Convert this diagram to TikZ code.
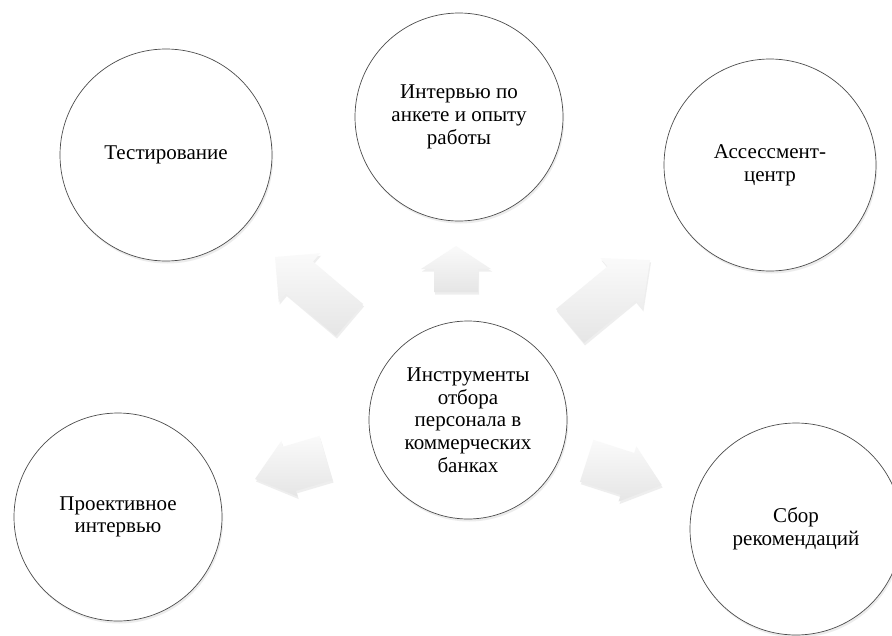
\documentclass[tikz,border=0pt]{standalone}
\usepackage{fontspec}
\setmainfont{Liberation Serif}
\newfontfamily\tnr{Liberation Serif}
\usetikzlibrary{shadows,calc}
\tikzset{
  bubble/.style={circle, draw=gray!60!black, line width=0.7pt, fill=white, inner sep=0pt,
    align=center, font=\tnr\fontsize{21}{22.7}\selectfont,
    drop shadow={shadow xshift=1.2pt, shadow yshift=-2.5pt, opacity=0.15}},
  blockarrow/.style={draw=none, top color=gray!4, bottom color=gray!20,
    drop shadow={shadow xshift=1pt, shadow yshift=-2.5pt, opacity=0.13}},
}
\newcommand\blockarr[5]{% #1 tail, #2 tip, #3 shaft half width, #4 head half width, #5 head length
  \coordinate (#1-hb) at ($(#2)!#5!(#1)$);
  \path[blockarrow] ($(#1)!#3!90:(#2)$) -- ($(#1-hb)!#3!90:(#2)$) -- ($(#1-hb)!#4!90:(#2)$)
    -- (#2) -- ($(#1-hb)!#4!-90:(#2)$) -- ($(#1-hb)!#3!-90:(#2)$) -- ($(#1)!#3!-90:(#2)$) -- cycle;}
\begin{document}
\begin{tikzpicture}[x=1pt,y=-1pt]
\useasboundingbox (0,0) rectangle (892,635);
\fill[white] (0,0) rectangle (892,635);

% arrows
\coordinate (ulA) at (349.5,320); \coordinate (ulB) at (275,257);
\coordinate (upA) at (456,292);   \coordinate (upB) at (456,246);
\coordinate (urA) at (570,326);   \coordinate (urB) at (650,260);
\coordinate (llA) at (326,458);   \coordinate (llB) at (255,479);
\coordinate (lrA) at (586.7,460.8); \coordinate (lrB) at (661.7,485);
\blockarr{ulA}{ulB}{21pt}{32pt}{32pt}
\blockarr{upA}{upB}{22pt}{35pt}{23pt}
\blockarr{urA}{urB}{22pt}{33pt}{37pt}
\blockarr{llA}{llB}{23pt}{29pt}{36pt}
\blockarr{lrA}{lrB}{22pt}{29pt}{36pt}

% circles
\node[bubble, minimum size=198pt] (center) at (468,420)
  {Инструменты\\отбора\\персонала в\\коммерческих\\банках};
\node[bubble, minimum size=212pt] (test) at (166,155) {Тестирование};
\node[bubble, minimum size=208pt] (intv) at (459,117) {Интервью по\\анкете и опыту\\работы};
\node[bubble, minimum size=212pt] (asses) at (770,165) {Ассессмент-\\центр};
\node[bubble, minimum size=208pt] (proj) at (118,517) {Проективное\\интервью};
\node[bubble, minimum size=212pt] (sbor) at (796,529) {Сбор\\рекомендаций};
\end{tikzpicture}
\end{document}
